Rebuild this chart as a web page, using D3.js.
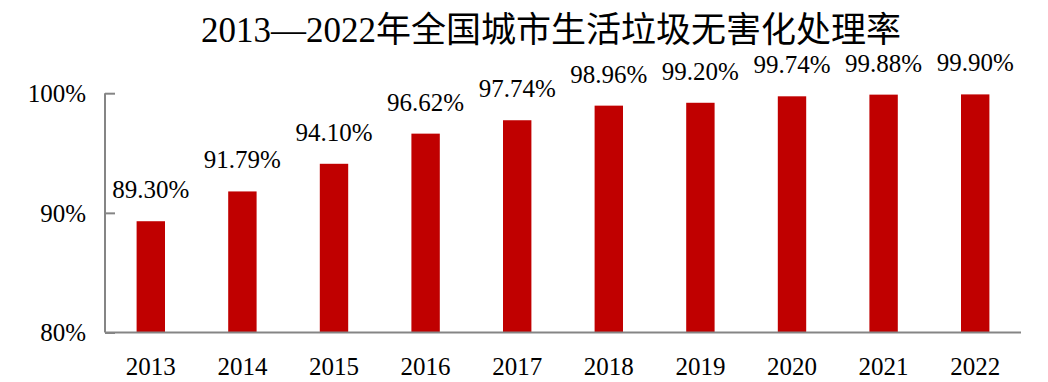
<!DOCTYPE html>
<html><head><meta charset="utf-8">
<script src="https://cdn.jsdelivr.net/npm/d3@7"></script>
<style>
body{margin:0;background:#fff;}
text{font-family:"Liberation Serif","Times New Roman","Noto Sans CJK SC",serif;fill:#000;}
</style></head>
<body>
<svg id="c" width="1048" height="382"></svg>
<script>
const title = "2013—2022年全国城市生活垃圾无害化处理率";
const years = ["2013","2014","2015","2016","2017","2018","2019","2020","2021","2022"];
const rates = [89.30,91.79,94.10,96.62,97.74,98.96,99.20,99.74,99.88,99.90];
const yTicks = [80,90,100];

const svg = d3.select("#c");
const mLeft = 105, mRight = 1021, mTop = 93.2, mBottom = 332.5;
const x = d3.scaleBand().domain(years).range([mLeft,mRight]).paddingInner(0.69).paddingOuter(0.345);
const y = d3.scaleLinear().domain([80,100]).range([mBottom,mTop]);

svg.append("text").attr("x",551).attr("y",42).attr("text-anchor","middle")
  .style("font-size","35px").text(title);

svg.selectAll("rect.bar").data(years).join("rect").attr("class","bar")
  .attr("x",d=>x(d)).attr("width",x.bandwidth())
  .attr("y",(d,i)=>y(rates[i])).attr("height",(d,i)=>mBottom-y(rates[i]))
  .attr("fill","#C00000");

svg.selectAll("text.val").data(years).join("text").attr("class","val")
  .attr("x",d=>x(d)+x.bandwidth()/2).attr("y",(d,i)=>y(rates[i])-23)
  .attr("text-anchor","middle").style("font-size","25px")
  .text((d,i)=>rates[i].toFixed(2)+"%");

// y axis
const yAxis = svg.append("g").attr("transform",`translate(${mLeft},0)`)
  .call(d3.axisRight(y).tickValues(yTicks).tickSize(10).tickFormat(""));
yAxis.selectAll("path,line").attr("stroke","#858585").attr("stroke-width",2);
yAxis.select("path").attr("d",`M0,${mTop}V${mBottom}`);
svg.selectAll("text.yl").data(yTicks).join("text").attr("class","yl")
  .attr("x",86).attr("y",d=>y(d)).attr("dy","0.35em").attr("text-anchor","end")
  .style("font-size","25px").text(d=>d+"%");

// x axis
const xAxis = svg.append("g").attr("transform",`translate(0,${mBottom})`)
  .call(d3.axisBottom(x).tickSize(0).tickPadding(0));
xAxis.select("path").attr("stroke","#858585").attr("stroke-width",2).attr("d",`M${mLeft},0H${mRight}`);
xAxis.selectAll("text").attr("y",42).attr("dy",null).style("font-size","25px")
  .style("font-family","'Liberation Serif','Times New Roman',serif").attr("fill","#000");
</script>
</body></html>
